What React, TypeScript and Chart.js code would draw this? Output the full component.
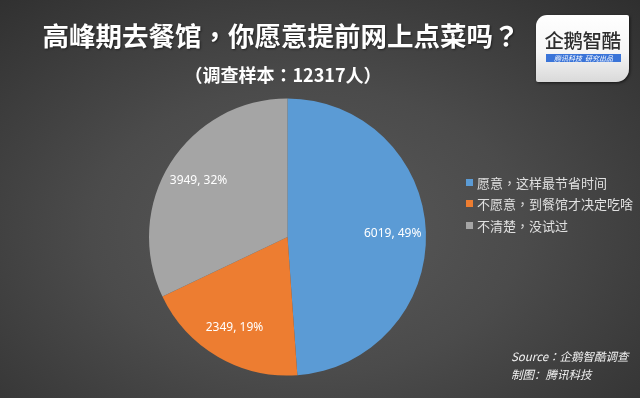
import React, { useEffect, useRef } from "react";
import { Chart, registerables } from "chart.js";

Chart.register(...registerables);

const categories = ["愿意，这样最节省时间", "不愿意，到餐馆才决定吃啥", "不清楚，没试过"];
const values = [6019, 2349, 3949];
const percents = ["49%", "19%", "32%"];
const colors = ["#5B9BD5", "#ED7D31", "#A5A5A5"];
const title = "高峰期去餐馆，你愿意提前网上点菜吗？";
const subtitle = "（调查样本：12317人）";
const sourceLines = ["Source：企鹅智酷调查", "制图：腾讯科技"];

const PUNCT = "，：？";
const TC = '"Noto Sans CJK TC", "Noto Sans CJK SC", sans-serif';

function withPunct(s: string) {
  const parts: React.ReactNode[] = [];
  let buf = "";
  let k = 0;
  for (const ch of s) {
    if (PUNCT.includes(ch)) {
      if (buf) parts.push(buf);
      buf = "";
      parts.push(
        <span key={k++} style={{ fontFamily: TC }}>
          {ch}
        </span>
      );
    } else buf += ch;
  }
  if (buf) parts.push(buf);
  return parts;
}

const labelPlugin = {
  id: "sliceLabels",
  afterDatasetsDraw(chart: any) {
    const ctx = chart.ctx;
    const meta = chart.getDatasetMeta(0);
    ctx.save();
    ctx.font = '12px "Noto Sans", "Open Sans", sans-serif';
    ctx.fillStyle = "#ffffff";
    ctx.textAlign = "center";
    ctx.textBaseline = "middle";
    meta.data.forEach((arc: any, i: number) => {
      const p = arc.getProps(["x", "y", "startAngle", "endAngle", "outerRadius"], true);
      const mid = (p.startAngle + p.endAngle) / 2;
      const r = p.outerRadius * 0.76;
      const x = p.x + Math.cos(mid) * r;
      const y = p.y + Math.sin(mid) * r;
      ctx.fillText(`${values[i]}, ${percents[i]}`, x, y);
    });
    ctx.restore();
  },
};

export default function App() {
  const ref = useRef<HTMLCanvasElement>(null);
  useEffect(() => {
    if (!ref.current) return;
    const chart = new Chart(ref.current, {
      type: "pie",
      data: {
        labels: categories,
        datasets: [
          {
            data: values,
            backgroundColor: colors,
            borderWidth: 0,
          },
        ],
      },
      options: {
        responsive: false,
        animation: false,
        layout: { padding: { left: 149, right: 214, top: 98.5, bottom: 22.5 } },
        plugins: {
          legend: { display: false },
          tooltip: { enabled: false },
        },
      },
      plugins: [labelPlugin],
    });
    return () => chart.destroy();
  }, []);

  const cjk = '"Noto Sans CJK SC", "Noto Sans", sans-serif';
  return (
    <div
      style={{
        position: "fixed",
        left: 0,
        top: 0,
        width: 640,
        height: 398,
        overflow: "hidden",
        background:
          "radial-gradient(ellipse 75% 80% at 48% 58%, #5a5a5a 0%, #4b4b4b 45%, #2f2f2f 100%)",
        fontFamily: cjk,
      }}
    >
      <canvas ref={ref} width={640} height={398} style={{ position: "absolute", left: 0, top: 0 }} />
      <div
        style={{
          position: "absolute",
          left: 0,
          width: 562,
          top: 18,
          textAlign: "center",
          color: "#ffffff",
          fontSize: 26.5,
          fontWeight: 700,
          lineHeight: "34px",
          whiteSpace: "nowrap",
          textShadow: "1px 1px 2px rgba(0,0,0,0.5)",
        }}
      >
        {withPunct(title)}
      </div>
      <div
        style={{
          position: "absolute",
          left: 0,
          width: 566,
          top: 61,
          textAlign: "center",
          color: "#ffffff",
          fontSize: 18,
          fontWeight: 700,
          lineHeight: "26px",
          whiteSpace: "nowrap",
        }}
      >
        {withPunct(subtitle)}
      </div>
      {/* logo */}
      <div
        style={{
          position: "absolute",
          left: 536,
          top: 15,
          width: 93,
          height: 67,
          borderRadius: "11px 2px 13px 2px",
          background: "linear-gradient(#ffffff 0%, #f6f6f6 55%, #d9d9d9 100%)",
          boxShadow: "1px 1px 3px rgba(0,0,0,0.6)",
        }}
      >
        <div
          style={{
            position: "absolute",
            left: 0,
            width: 93,
            top: 13,
            textAlign: "center",
            color: "#2e2e2e",
            fontSize: 19.5,
            fontWeight: 500,
            lineHeight: "24px",
            letterSpacing: -0.5,
            whiteSpace: "nowrap",
          }}
        >
          企鹅智酷
        </div>
        <div
          style={{
            position: "absolute",
            left: 10,
            width: 75,
            top: 39,
            height: 8,
            background: "#3a74d8",
            color: "#ffffff",
            fontSize: 7,
            lineHeight: "8px",
            fontStyle: "italic",
            textAlign: "center",
            whiteSpace: "nowrap",
          }}
        >
          腾讯科技&nbsp;&nbsp;研究出品
        </div>
      </div>
      {/* legend */}
      {categories.map((c, i) => (
        <div
          key={c}
          style={{
            position: "absolute",
            left: 466,
            top: 175 + i * 21.5 - 2,
            height: 18,
            display: "flex",
            alignItems: "center",
            color: "#e0e0e0",
            fontSize: 13,
            whiteSpace: "nowrap",
          }}
        >
          <span
            style={{
              display: "inline-block",
              width: 7,
              height: 7,
              background: colors[i],
              marginRight: 4,
            }}
          />
          {withPunct(c)}
        </div>
      ))}
      {/* source */}
      {sourceLines.map((s, i) => (
        <div
          key={s}
          style={{
            position: "absolute",
            left: 511,
            top: 347 + i * 18,
            color: "#f2f2f2",
            fontSize: 11.5,
            fontStyle: "italic",
            lineHeight: "18px",
            whiteSpace: "nowrap",
          }}
        >
          {i === 0 ? withPunct(s) : s}
        </div>
      ))}
    </div>
  );
}
